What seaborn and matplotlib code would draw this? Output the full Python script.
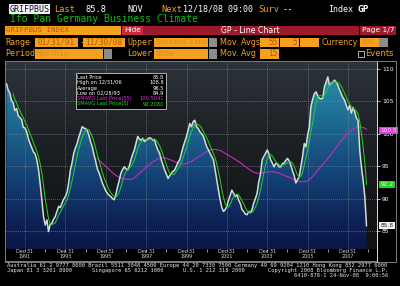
import numpy as np
import pandas as pd
import matplotlib
matplotlib.use("Agg")
import matplotlib.pyplot as plt
import matplotlib.dates as mdates
from matplotlib.patches import Rectangle, Polygon
from matplotlib.colors import LinearSegmentedColormap, Normalize
from matplotlib.transforms import blended_transform_factory
import seaborn as sns

# ---------------- data (Ifo Business Climate, monthly) ----------------
y1991 = [107.7, 106.8, 106.3, 105.2, 104.8, 103.6, 103.9, 102.8, 102.5, 102.2, 101.0, 100.9]
y1992 = [100.3, 99.3, 98.5, 97.9, 97.2, 96.9, 96.0, 94.5, 92.3, 89.8, 87.2, 85.9]
y1993 = [86.7, 84.9, 86.0, 86.2, 86.8, 87.2, 88.0, 88.8, 88.6, 89.3, 89.9, 90.3]
y1994 = [91.0, 92.4, 94.4, 95.5, 97.0, 97.8, 98.5, 99.5, 100.3, 101.1, 100.9, 100.8]
y1995 = [100.5, 99.8, 98.8, 98.0, 96.8, 95.8, 94.6, 94.0, 93.2, 92.4, 91.8, 91.2]
y1996 = [90.8, 90.5, 90.3, 90.0, 89.8, 90.6, 91.8, 92.8, 93.9, 94.5, 94.9, 94.6]
y1997 = [94.4, 95.0, 96.0, 96.8, 97.5, 98.5, 99.6, 99.2, 99.0, 99.3, 98.8, 99.0]
y1998 = [99.2, 99.4, 99.3, 99.0, 99.1, 98.2, 97.5, 97.0, 96.0, 95.2, 94.4, 93.8]
y1999 = [93.1, 93.5, 93.9, 94.2, 94.4, 95.0, 95.6, 96.0, 97.0, 98.0, 98.8, 99.6]
y2000 = [100.6, 101.6, 101.1, 101.9, 102.1, 101.1, 100.8, 100.3, 100.0, 99.6, 98.8, 98.0]
y2001 = [97.5, 97.0, 96.5, 96.0, 94.5, 92.9, 91.3, 89.8, 88.6, 88.0, 88.3, 88.8]
y2002 = [89.8, 90.5, 91.3, 90.8, 90.3, 90.6, 89.8, 89.2, 88.3, 88.0, 87.6, 87.5]
y2003 = [88.0, 87.8, 88.3, 89.3, 90.0, 90.8, 92.6, 93.8, 96.0, 96.5, 97.0, 97.5]
y2004 = [96.9, 96.0, 95.5, 94.9, 95.4, 95.4, 94.9, 94.9, 95.4, 95.5, 95.9, 96.2]
y2005 = [95.8, 95.2, 94.3, 93.6, 92.4, 92.9, 93.4, 95.0, 96.5, 98.5, 98.0, 99.8]
y2006 = [101.1, 104.2, 105.3, 106.2, 106.5, 105.9, 105.5, 105.4, 105.5, 107.3, 108.0, 108.8]
y2007 = [107.5, 107.8, 108.0, 108.3, 108.0, 107.5, 106.8, 106.2, 105.6, 105.2, 104.4, 103.7]
y2008 = [104.4, 103.2, 104.1, 103.4, 102.4, 102.1, 97.4, 94.8, 92.8, 90.2, 85.8]

values = (y1991 + y1992 + y1993 + y1994 + y1995 + y1996 + y1997 + y1998 + y1999
          + y2000 + y2001 + y2002 + y2003 + y2004 + y2005 + y2006 + y2007 + y2008)
start_date = "1991-01-31"
long_window = 55
short_window = 5

y_ticks = [85, 90, 95, 100, 105, 110]
label_years = [1991, 1993, 1995, 1997, 1999, 2001, 2003, 2005, 2007]
minor_years = [1992, 1994, 1996, 1998, 2000, 2002, 2004, 2006, 2008]

legend_labels = ["Last Price", "High on 12/31/06", "Average", "Low on 02/28/93",
                 "SMAVG Last Price(55)", "SMAVG Last Price(5)"]
legend_values = ["85.8", "108.8", "96.5", "84.9", "100.5041", "92.2080"]
flag_values = [100.5, 92.2, 85.8]
flag_texts = ["100.5", "92.2", "85.8"]

dates = pd.date_range(start_date, periods=len(values), freq="ME")
df = pd.DataFrame({"x": mdates.date2num(dates), "last": values})
df["sma_long"] = df["last"].rolling(long_window).mean()
df["sma_short"] = df["last"].rolling(short_window).mean()

# ---------------- figure ----------------
W, H = 400, 286
fig = plt.figure(figsize=(W / 100, H / 100), dpi=100, facecolor="black")
MONO = "DejaVu Sans Mono"
SANS = "DejaVu Sans"
ORANGE = "#f4a21e"
BOXTXT = "#b85a00"

ax0 = fig.add_axes([0, 0, 1, 1], zorder=0)
ax0.set_xlim(0, W); ax0.set_ylim(H, 0); ax0.axis("off")
ax0.set_facecolor("black")


def t(ax_, x, y, s, color, size, family=MONO, weight="normal", ha="left"):
    ax_.text(x, y, s, color=color, fontsize=size, family=family,
             fontweight=weight, ha=ha, va="center")


def box(ax_, x0, x1, y0, y1, fc, ec="none", lw=0.0):
    ax_.add_patch(Rectangle((x0, y0), x1 - x0, y1 - y0, facecolor=fc,
                            edgecolor=ec, linewidth=lw))


# row 1
box(ax0, 8.5, 49.5, 4, 14, "#f2f2f2")
t(ax0, 9.3, 9.2, "GRIFPBUS", "#101030", 6.0)
t(ax0, 54, 9.2, "Last", ORANGE, 6.2)
t(ax0, 85, 9.2, "85.8", "white", 6.2)
t(ax0, 127, 9.2, "NOV", "white", 6.2)
t(ax0, 161, 9.2, "Next", ORANGE, 6.2)
t(ax0, 183, 9.2, "12/18/08 09:00", "white", 6.0)
t(ax0, 258, 9.2, "Surv", ORANGE, 6.2)
t(ax0, 283, 9.2, "--", "white", 6.2)
t(ax0, 328, 9.2, "Index", "white", 6.0)
t(ax0, 357, 9.2, "GP", "white", 6.8, weight="bold")
# row 2
t(ax0, 9.5, 19.5, "Ifo Pan Germany Business Climate", "#10c010", 7.0)
# row 3
box(ax0, 5, 120.5, 25.5, 35, ORANGE)
t(ax0, 6.5, 30.3, "GRIFPBUS INDEX", BOXTXT, 5.3)
box(ax0, 122, 143, 25.5, 35, "#c52a3d")
t(ax0, 124, 30.3, "Hide", "white", 5.3, family=SANS)
box(ax0, 143, 396, 25.5, 35, "#9c1a2c")
t(ax0, 250, 30.3, "GP - Line Chart", "white", 5.6, family=SANS, ha="center")
ax0.plot([359, 359], [25.5, 35], color="black", lw=0.8)
t(ax0, 362, 30.3, "Page 1/7", "white", 5.4, family=SANS)
# row 4
yr4 = 42.2
t(ax0, 5.5, yr4, "Range", ORANGE, 6.0)
box(ax0, 35, 78, 37.5, 47, ORANGE); t(ax0, 37.5, yr4, "01/31/91", BOXTXT, 5.6)
t(ax0, 79.5, yr4, "-", ORANGE, 6.0)
box(ax0, 83, 125, 37.5, 47, ORANGE); t(ax0, 85.5, yr4, "11/30/08", BOXTXT, 5.6)
t(ax0, 127.5, yr4, "Upper", ORANGE, 6.0)
box(ax0, 154, 208, 37.5, 47, ORANGE); t(ax0, 155.5, yr4, "Revised Line", "#d98a30", 5.0)
box(ax0, 208.5, 217, 37.5, 47, "#8c8c8c")
t(ax0, 220, yr4, "Mov. Avgs", ORANGE, 5.8, family=SANS)
box(ax0, 260, 279, 37.5, 47, ORANGE); t(ax0, 277.5, yr4, "55", BOXTXT, 5.6, ha="right")
box(ax0, 280, 298.5, 37.5, 47, ORANGE); t(ax0, 297, yr4, "5", BOXTXT, 5.6, ha="right")
box(ax0, 300, 318.5, 37.5, 47, ORANGE)
t(ax0, 322, yr4, "Currency", ORANGE, 5.8, family=SANS)
box(ax0, 360, 378.5, 37.5, 47, ORANGE); t(ax0, 361, yr4, "EUR", "#d98a30", 5.4)
box(ax0, 379, 387.5, 37.5, 47, "#8c8c8c")
# row 5
yr5 = 54.0
t(ax0, 5.5, yr5, "Period", ORANGE, 6.0)
box(ax0, 35, 103, 49.3, 58.8, ORANGE); t(ax0, 36.5, yr5, "Monthly", "#d98a30", 5.6)
box(ax0, 103.5, 111.5, 49.3, 58.8, "#8c8c8c")
t(ax0, 127.5, yr5, "Lower", ORANGE, 6.0)
box(ax0, 154, 208, 49.3, 58.8, ORANGE); t(ax0, 155.5, yr5, "None", "#d98a30", 5.6)
box(ax0, 208.5, 217, 49.3, 58.8, "#8c8c8c")
t(ax0, 220, yr5, "Mov. Avg", ORANGE, 5.8, family=SANS)
box(ax0, 260, 279, 49.3, 58.8, ORANGE); t(ax0, 277.5, yr5, "15", BOXTXT, 5.6, ha="right")
box(ax0, 358, 363.5, 51.3, 56.8, "black", ec="#d0d0d0", lw=0.6)
t(ax0, 365, yr5, "Events", ORANGE, 6.0, family=SANS)

# footer
FOOT = "#e6e6e6"
t(ax0, 7, 265.0, "Australia 61 2 9777 8600 Brazil 5511 3048 4500 Europe 44 20 7330 7500 "
   "Germany 49 69 9204 1210 Hong Kong 852 2977 6000", FOOT, 3.9)
t(ax0, 7, 270.5, "Japan 81 3 3201 8900", FOOT, 3.9)
t(ax0, 92, 270.5, "Singapore 65 6212 1000", FOOT, 3.9)
t(ax0, 183, 270.5, "U.S. 1 212 318 2000", FOOT, 3.9)
t(ax0, 388, 270.5, "Copyright 2008 Bloomberg Finance L.P.", FOOT, 3.9, ha="right")
t(ax0, 388, 275.8, "6410-878-1 24-Nov-08  9:00:56", FOOT, 3.9, ha="right")

# ---------------- chart axes ----------------
px_left, px_right, px_top, px_bot = 6, 377, 62, 249
ax = fig.add_axes([px_left / W, (H - px_bot) / H, (px_right - px_left) / W,
                   (px_bot - px_top) / H], zorder=1)
ymin, ymax = 82.2, 111.1
x0 = mdates.date2num(pd.Timestamp(start_date)) - 9.8
x1 = mdates.date2num(pd.Timestamp("2007-12-31")) + 524.7

# background gradient (above the line)
bg_cmap = LinearSegmentedColormap.from_list(
    "bg", [(0.0, "#2c333a"), (0.35, "#1f2327"), (0.7, "#16181b"), (1.0, "#101113")])
bg = bg_cmap(np.linspace(0, 1, 256))[:, None, :]
ax.imshow(bg, extent=[x0, x1, ymin, ymax], origin="upper", aspect="auto",
          zorder=0, interpolation="bilinear")

# fill gradient (below the line)
fill_cmap = LinearSegmentedColormap.from_list(
    "fill", [(0.0, "#0a1646"), (0.15, "#0d2256"), (0.35, "#133c70"),
             (0.55, "#195884"), (0.78, "#22789c"), (1.0, "#2e93ad")])
vals = np.linspace(ymax, ymin, 256)
fill_img = fill_cmap(Normalize(ymin, ymax)(vals))[:, None, :]
im = ax.imshow(fill_img, extent=[x0, x1, ymin, ymax], origin="upper",
               aspect="auto", zorder=1, interpolation="bilinear")
verts = list(zip(df["x"], df["last"])) + [(df["x"].iloc[-1], ymin), (df["x"].iloc[0], ymin)]
clip = Polygon(verts, closed=True, transform=ax.transData, facecolor="none", edgecolor="none")
ax.add_patch(clip)
im.set_clip_path(clip)

# lines
sns.lineplot(data=df, x="x", y="sma_long", ax=ax, color="#c22cc2", linewidth=0.8, zorder=4)
sns.lineplot(data=df, x="x", y="last", ax=ax, color="#d6dade", linewidth=1.1, zorder=5)
sns.lineplot(data=df, x="x", y="sma_short", ax=ax, color="#1fd01f", linewidth=0.75, zorder=6)

ax.set_xlim(x0, x1)
ax.set_ylim(ymin, ymax)
ax.set_xlabel(""); ax.set_ylabel("")

major = [mdates.date2num(pd.Timestamp(f"{y}-12-31")) for y in label_years]
minor = [mdates.date2num(pd.Timestamp(f"{y}-12-31")) for y in minor_years]
ax.set_xticks(major)
ax.set_xticklabels([f"Dec 31\n{y}" for y in label_years], family=SANS,
                   fontsize=3.5, color="white", linespacing=1.05)
ax.set_xticks(minor, minor=True)
ax.yaxis.tick_right()
ax.set_yticks(y_ticks)
ax.set_yticklabels([str(v) for v in y_ticks], family=SANS, fontsize=4.3, color="white")
ax.tick_params(axis="x", which="both", colors="#d0d0d0", length=1.8, width=0.5, pad=-1.6)
ax.tick_params(axis="y", colors="white", length=2.5, width=0.5, pad=1.0)
ax.grid(True, which="major", color="#a0a6ad", linestyle=(0, (1.2, 1.6)),
        linewidth=0.5, alpha=0.75, zorder=3)
ax.set_axisbelow(False)
for s in ["left", "top", "bottom"]:
    ax.spines[s].set_visible(False)
ax.spines["right"].set_color("white")
ax.spines["right"].set_linewidth(0.6)

# right-side value flags
blend = blended_transform_factory(ax.transAxes, ax.transData)
flag_styles = [("#e03ce0", "#ffe0ff"), ("#22d022", "#e8ffe8"), ("#f4f4f4", "#202020")]
for v, s, (fc, tc) in zip(flag_values, flag_texts, flag_styles):
    ax.text(1.009, v, s, transform=blend, ha="left", va="center", fontsize=4.2,
            family=SANS, color=tc, clip_on=False, zorder=10,
            bbox=dict(boxstyle="square,pad=0.18", fc=fc, ec="none"))

# ---------------- overlay (frame + legend box) ----------------
ax2 = fig.add_axes([0, 0, 1, 1], zorder=3)
ax2.set_xlim(0, W); ax2.set_ylim(H, 0); ax2.axis("off")
ax2.patch.set_alpha(0)
ax2.add_patch(Rectangle((5, 61), 391, 200.5, facecolor="none", edgecolor="#8c939a", linewidth=0.6))
ax2.plot([377, 377], [249, 261.5], color="white", lw=0.6)
ax2.plot([5, 377], [261.2, 261.2], color="#b0b0b0", lw=0.5)

box(ax2, 75.5, 165.5, 72.5, 108.5, "black", ec="#c8c8c8", lw=0.6)
leg_colors = ["white", "white", "white", "white", "#e030e0", "#20e020"]
row_y = [77.5, 82.8, 88.1, 93.4, 98.7, 104.0]
for lab, val, c, yy in zip(legend_labels, legend_values, leg_colors, row_y):
    t(ax2, 77, yy, lab, c, 3.7, family=SANS)
    t(ax2, 164, yy, val, c, 3.7, family=SANS, ha="right")

fig.savefig("out.png", dpi=100, facecolor="black")
